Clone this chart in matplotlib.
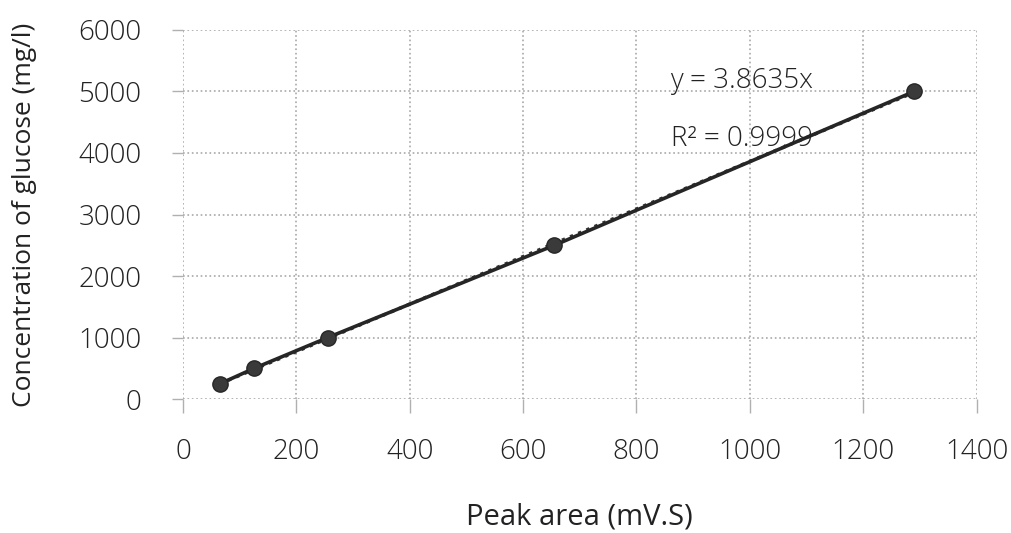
import numpy as np
import matplotlib.pyplot as plt

plt.rcParams['font.family'] = ['Open Sans', 'DejaVu Sans']
plt.rcParams['font.weight'] = 'light'

# Calibration data
peak_area = [65, 125, 255, 655, 1290]
glucose = [250, 500, 1000, 2500, 5000]
slope = 3.8635
r2 = 0.9999

x_ticks = [0, 200, 400, 600, 800, 1000, 1200, 1400]
y_ticks = [0, 1000, 2000, 3000, 4000, 5000, 6000]

fig = plt.figure(figsize=(10.11, 5.33), dpi=100)
ax = fig.add_axes([0.181, 0.251, 0.785, 0.693])

# trendline through origin, over the data range
xs = np.array([min(peak_area), max(peak_area)])
ax.plot(xs, slope * xs, color='#333333', lw=2.4, ls=':', zorder=2)

# data points joined by a line
ax.plot(peak_area, glucose, color='#262626', lw=2.6, marker='o',
        markersize=11, markerfacecolor='#3a3a3a', markeredgecolor='#262626', zorder=3)

ax.set_xlim(0, 1400)
ax.set_ylim(0, 6000)
ax.set_xticks(x_ticks)
ax.set_yticks(y_ticks)

ax.grid(True, color='#a8a8a8', ls=':', lw=1.2)
ax.set_axisbelow(True)
for s in ax.spines.values():
    s.set_visible(False)
ax.tick_params(axis='x', length=10, width=1, color='#b0b0b0', pad=18,
               labelsize=20, labelcolor='#222222')
ax.tick_params(axis='y', length=8, width=1, color='#b0b0b0', pad=22,
               labelsize=20, labelcolor='#222222')

ax.set_xlabel('Peak area (mV.S)', fontsize=21, color='#222222', labelpad=26)
ax.set_ylabel('Concentration of glucose (mg/l)', fontsize=19, color='#222222', labelpad=30)

ax.text(860, 5170, 'y = 3.8635x', fontsize=20, color='#222222', va='center')
ax.text(860, 4220, 'R² = 0.9999', fontsize=20, color='#222222', va='center')

fig.savefig('out.png', dpi=100)
